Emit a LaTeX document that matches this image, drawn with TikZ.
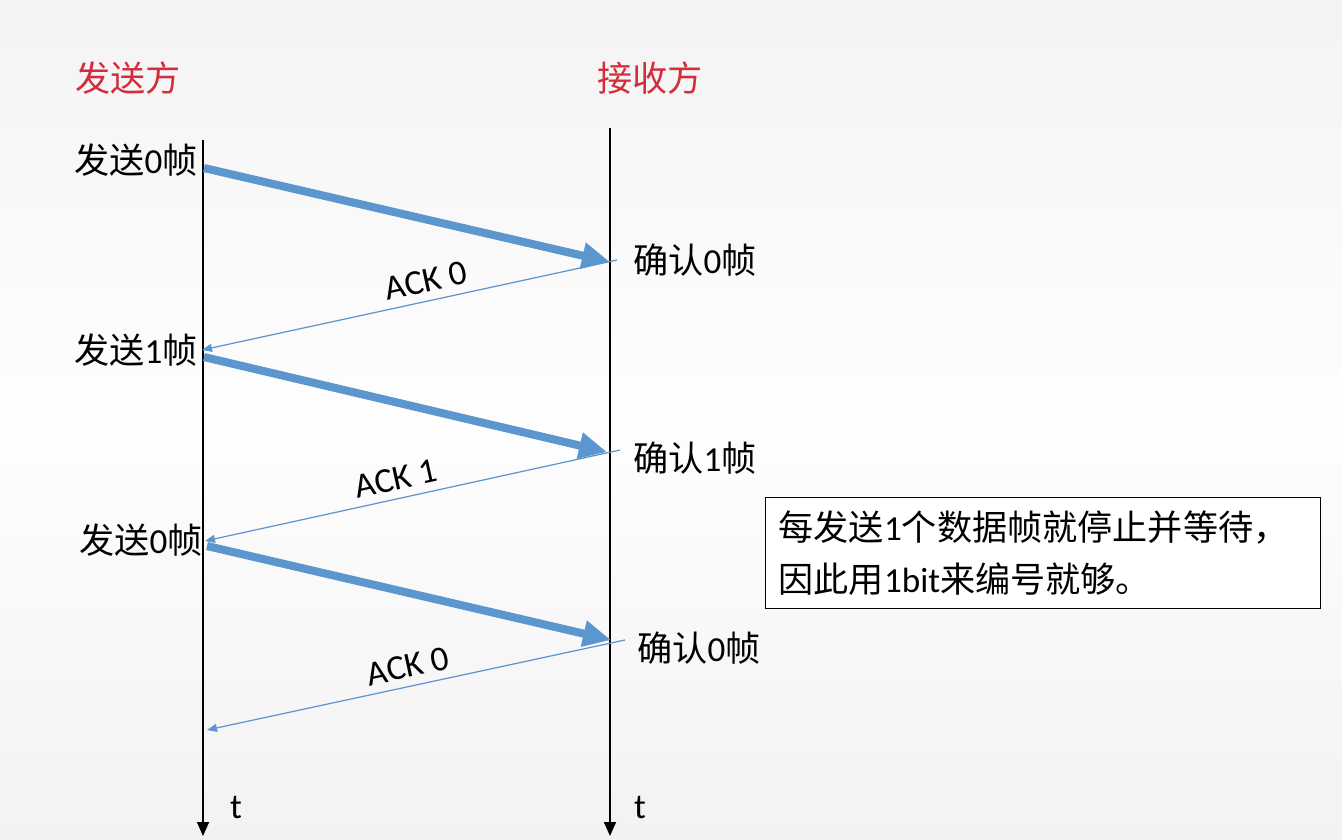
\documentclass[tikz,border=0pt]{standalone}
\usepackage{fontspec}
\setmainfont{Carlito}
\newfontfamily\cjk{Noto Sans CJK SC}
\usetikzlibrary{arrows.meta}
\definecolor{sendred}{RGB}{212,44,58}
\definecolor{frameblue}{RGB}{91,150,207}
\newcommand{\zh}[1]{{\cjk #1}}

\begin{document}
\begin{tikzpicture}[x=0.02cm, y=-0.02cm,
side/.style={font=\fontsize{20}{24}\selectfont, text=sendred},
evt/.style={font=\fontsize{20}{24}\selectfont, inner sep=0pt},
acklabel/.style={font=\fontsize{20}{24}\selectfont, sloped, above, inner sep=4.5pt},
tline/.style={line width=0.9pt, -{Triangle[length=0.28cm,width=0.24cm]}},
dataarrow/.style={line width=4.6pt, draw=frameblue, -{Triangle[length=0.56cm,width=0.5cm]}},
ackarrow/.style={line width=0.7pt, draw=frameblue, -{Triangle[length=0.2cm,width=0.16cm]}},
notebox/.style={draw, line width=0.8pt, fill=white, anchor=north west, align=left,
minimum width=11.1cm, minimum height=2.06cm, text width=10.58cm, inner sep=0.26cm,
font=\fontsize{20}{29.5}\selectfont}
]

% background
\shade[top color=gray!9, bottom color=gray!1] (0,0) rectangle (1342,420);
\shade[top color=gray!1, bottom color=gray!10] (0,420) rectangle (1342,839);
\useasboundingbox (0,0) rectangle (1342,839);

\node[side] (sender) at (128,78) {\zh{发送方}};
\node[side] (receiver) at (650,78) {\zh{接收方}};

% time axes
\coordinate (ltop) at (203,140);
\coordinate (lbot) at (203,836);
\coordinate (rtop) at (610,128);
\coordinate (rbot) at (610,836);
\draw[tline] (ltop) -- (lbot);
\draw[tline] (rtop) -- (rbot);
\node[evt] (lt) at (236,808) {t};
\node[evt] (rt) at (640,808) {t};

% events
\coordinate (snd0) at (204,168);
\coordinate (rcv0) at (610,262);
\coordinate (ack0) at (617,260);
\coordinate (snd1) at (202,350);
\coordinate (snd1b) at (204,357);
\coordinate (rcv1) at (607,452);
\coordinate (ack1) at (620,450);
\coordinate (snd2) at (205,541);
\coordinate (snd2b) at (207,546);
\coordinate (rcv2) at (611,640);
\coordinate (ack2) at (625,640);
\coordinate (done) at (207,730);

\node[evt, anchor=east] (s0) at (198,160) {\zh{发送}0\zh{帧}};
\node[evt, anchor=east] (s1) at (198,350) {\zh{发送}1\zh{帧}};
\node[evt, anchor=east] (s2) at (203,540) {\zh{发送}0\zh{帧}};
\node[evt, anchor=west] (c0) at (633,260) {\zh{确认}0\zh{帧}};
\node[evt, anchor=west] (c1) at (633,458) {\zh{确认}1\zh{帧}};
\node[evt, anchor=west] (c2) at (637,648) {\zh{确认}0\zh{帧}};

\draw[dataarrow] (snd0) -- (rcv0);
\draw[ackarrow] (ack0) -- node[acklabel, pos=0.45] {ACK 0} (snd1);
\draw[dataarrow] (snd1b) -- (rcv1);
\draw[ackarrow] (ack1) -- node[acklabel, pos=0.53] {ACK 1} (snd2);
\draw[dataarrow] (snd2b) -- (rcv2);
\draw[ackarrow] (ack2) -- node[acklabel, pos=0.51] {ACK 0} (done);

\node[notebox] (note) at (765,497)
{\zh{每发送}1\zh{个数据帧就停止并等待，}\\\zh{因此用}1bit\zh{来编号就够。}};

\end{tikzpicture}
\end{document}
